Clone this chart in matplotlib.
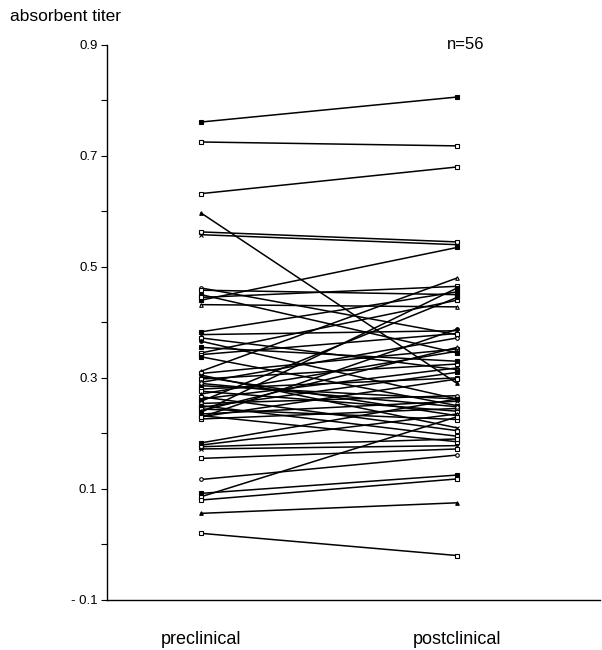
import matplotlib
matplotlib.use("Agg")
import matplotlib.pyplot as plt
import numpy as np

plt.rcParams['font.family'] = ['Liberation Sans', 'DejaVu Sans']

# paired titers, one entry per subject
preclinical = [0.761, 0.725, 0.632, 0.597, 0.563, 0.558, 0.440, 0.462, 0.458, 0.450,
               0.445, 0.432, 0.383, 0.378, 0.372, 0.366, 0.345, 0.342, 0.338, 0.312,
               0.308, 0.302, 0.298, 0.292, 0.286, 0.280, 0.276, 0.271, 0.266, 0.262,
               0.258, 0.254, 0.250, 0.247, 0.244, 0.241, 0.238, 0.235, 0.232, 0.229,
               0.226, 0.230, 0.183, 0.179, 0.176, 0.172, 0.155, 0.117, 0.092, 0.086,
               0.080, 0.056, 0.020, 0.305, 0.355, 0.290]
postclinical = [0.806, 0.718, 0.680, 0.290, 0.545, 0.540, 0.535, 0.378, 0.450, 0.345,
                0.465, 0.428, 0.455, 0.385, 0.315, 0.262, 0.440, 0.380, 0.250, 0.480,
                0.352, 0.232, 0.325, 0.372, 0.262, 0.300, 0.240, 0.348, 0.205, 0.318,
                0.445, 0.268, 0.195, 0.310, 0.225, 0.355, 0.462, 0.258, 0.185, 0.388,
                0.245, 0.298, 0.262, 0.235, 0.190, 0.178, 0.172, 0.161, 0.125, 0.230,
                0.118, 0.075, -0.020, 0.210, 0.330, 0.248]
groups = ['preclinical', 'postclinical']
n_label = 'n=56'

# mostly tiny squares, a few other symbols like the original
markers = ['s', 's', 's', '^', 's', 'x', 's', 'o']

fig = plt.figure(figsize=(6.02, 6.5), dpi=100)
ax = fig.add_axes([0.178, 0.077, 0.819, 0.854])

for i, (a, b) in enumerate(zip(preclinical, postclinical)):
    m = markers[i % len(markers)]
    filled = i % 3 == 0
    ax.plot([1, 2], [a, b], color='black', lw=1.1, marker=m, markersize=2.6,
            markerfacecolor='black' if filled else 'white', markeredgecolor='black',
            markeredgewidth=0.8)

ax.set_xlim(0.633, 2.559)
ax.set_ylim(-0.1, 0.9)
ax.spines['top'].set_visible(False)
ax.spines['right'].set_visible(False)
ax.spines['left'].set_linewidth(1.0)
ax.spines['bottom'].set_linewidth(1.0)

ax.set_yticks(np.arange(-0.1, 0.91, 0.2))
ax.set_yticklabels(['- 0.1', '0.1', '0.3', '0.5', '0.7', '0.9'], fontsize=9.5)
ax.set_yticks(np.arange(0.0, 0.81, 0.2), minor=True)
ax.tick_params(axis='y', which='both', direction='out', length=4, width=0.8, pad=3)

ax.set_xticks([1, 2])
ax.set_xticklabels(groups, fontsize=13)
ax.tick_params(axis='x', length=0, pad=22)

fig.text(0.017, 0.975, 'absorbent titer', fontsize=12.5, va='center', ha='left')
ax.text(1.96, 0.9, n_label, fontsize=12, va='center', ha='left')

fig.savefig('out.png', dpi=100)
